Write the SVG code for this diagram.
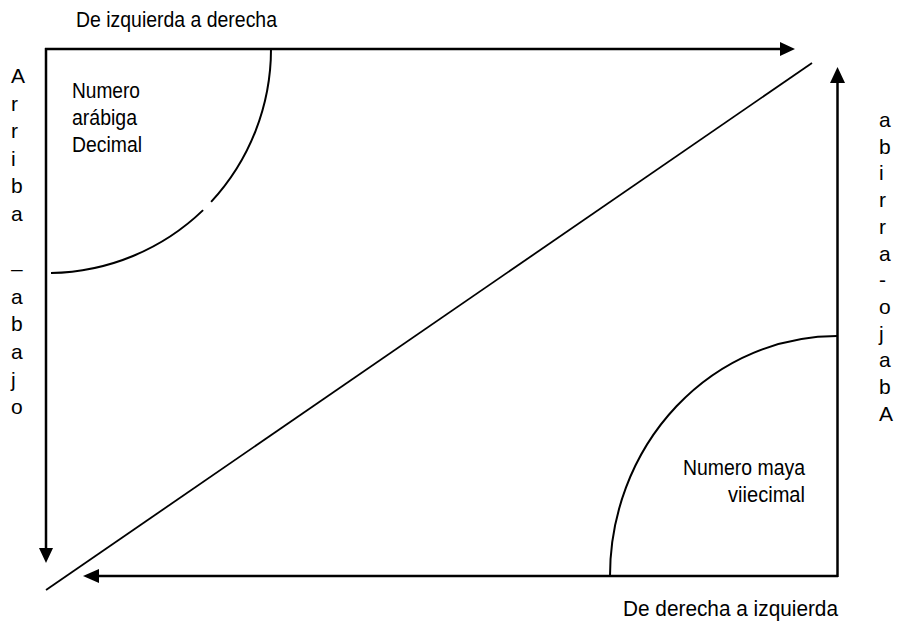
<svg xmlns="http://www.w3.org/2000/svg" width="901" height="629" viewBox="0 0 901 629">
  <style>
    .t { font-family: "Liberation Sans", Arial, sans-serif; font-size: 22px; fill: #000; }
    .v { font-family: "Liberation Sans", Arial, sans-serif; font-size: 21px; fill: #000; }
    .main { stroke: #000; stroke-width: 2.5; fill: none; }
    .arc { stroke: #000; stroke-width: 2; fill: none; }
    .diag { stroke: #000; stroke-width: 1.8; fill: none; }
    .head { fill: #000; stroke: none; }
  </style>
  <rect width="901" height="629" fill="#fff"/>

  <g id="connectors">
    <line class="main" x1="45" y1="49" x2="782" y2="49"/>
    <polygon class="head" points="795,49 780,42 780,56"/>
    <line class="main" x1="46" y1="48" x2="46" y2="550"/>
    <polygon class="head" points="46,563 39,548 53,548"/>
    <line class="main" x1="838" y1="576" x2="96" y2="576"/>
    <polygon class="head" points="83,576 99,569 99,583"/>
    <line class="main" x1="837.5" y1="577" x2="837.5" y2="80"/>
    <polygon class="head" points="837.5,67 830,83 845,83"/>
    <line class="diag" x1="46" y1="590" x2="812" y2="63"/>
  </g>

  <g id="arc-decimal">
    <path class="arc" d="M 271 49 A 225 225 0 0 1 211.1 201.9"/>
    <path class="arc" d="M 203.1 210.1 A 225 225 0 0 1 51 273"/>
  </g>
  <g id="arc-maya">
    <path class="arc" d="M 837 336 A 227 240 0 0 0 610 576"/>
  </g>

  <g id="label-top">
    <text class="t" x="76" y="27" textLength="201" lengthAdjust="spacingAndGlyphs">De izquierda a derecha</text>
  </g>
  <g id="label-bottom">
    <text class="t" x="623" y="616" textLength="215" lengthAdjust="spacingAndGlyphs">De derecha a izquierda</text>
  </g>
  <g id="node-decimal">
    <text class="t" x="72" y="98" textLength="68" lengthAdjust="spacingAndGlyphs">Numero</text>
    <text class="t" x="72" y="125" textLength="65" lengthAdjust="spacingAndGlyphs">arábiga</text>
    <text class="t" x="72" y="152" textLength="70" lengthAdjust="spacingAndGlyphs">Decimal</text>
  </g>
  <g id="node-maya">
    <text class="t" x="683" y="475" textLength="122" lengthAdjust="spacingAndGlyphs">Numero maya</text>
    <text class="t" x="728" y="502" textLength="77" lengthAdjust="spacingAndGlyphs">viiecimal</text>
  </g>
  <g id="label-left">
    <text class="v" x="11" y="83">A</text>
    <text class="v" x="11" y="110.6">r</text>
    <text class="v" x="11" y="138.2">r</text>
    <text class="v" x="11" y="165.8">i</text>
    <text class="v" x="11" y="193.4">b</text>
    <text class="v" x="11" y="221">a</text>
    <text class="v" x="11" y="276.2">–</text>
    <text class="v" x="11" y="303.8">a</text>
    <text class="v" x="11" y="331.4">b</text>
    <text class="v" x="11" y="359">a</text>
    <text class="v" x="11" y="386.6">j</text>
    <text class="v" x="11" y="414.2">o</text>
  </g>
  <g id="label-right">
    <text class="v" x="879" y="127">a</text>
    <text class="v" x="879" y="153.7">b</text>
    <text class="v" x="879" y="180.4">i</text>
    <text class="v" x="879" y="207.1">r</text>
    <text class="v" x="879" y="233.8">r</text>
    <text class="v" x="879" y="260.5">a</text>
    <text class="v" x="879" y="287.2">-</text>
    <text class="v" x="879" y="313.9">o</text>
    <text class="v" x="879" y="340.6">j</text>
    <text class="v" x="879" y="367.3">a</text>
    <text class="v" x="879" y="394">b</text>
    <text class="v" x="879" y="420.7">A</text>
  </g>
</svg>
